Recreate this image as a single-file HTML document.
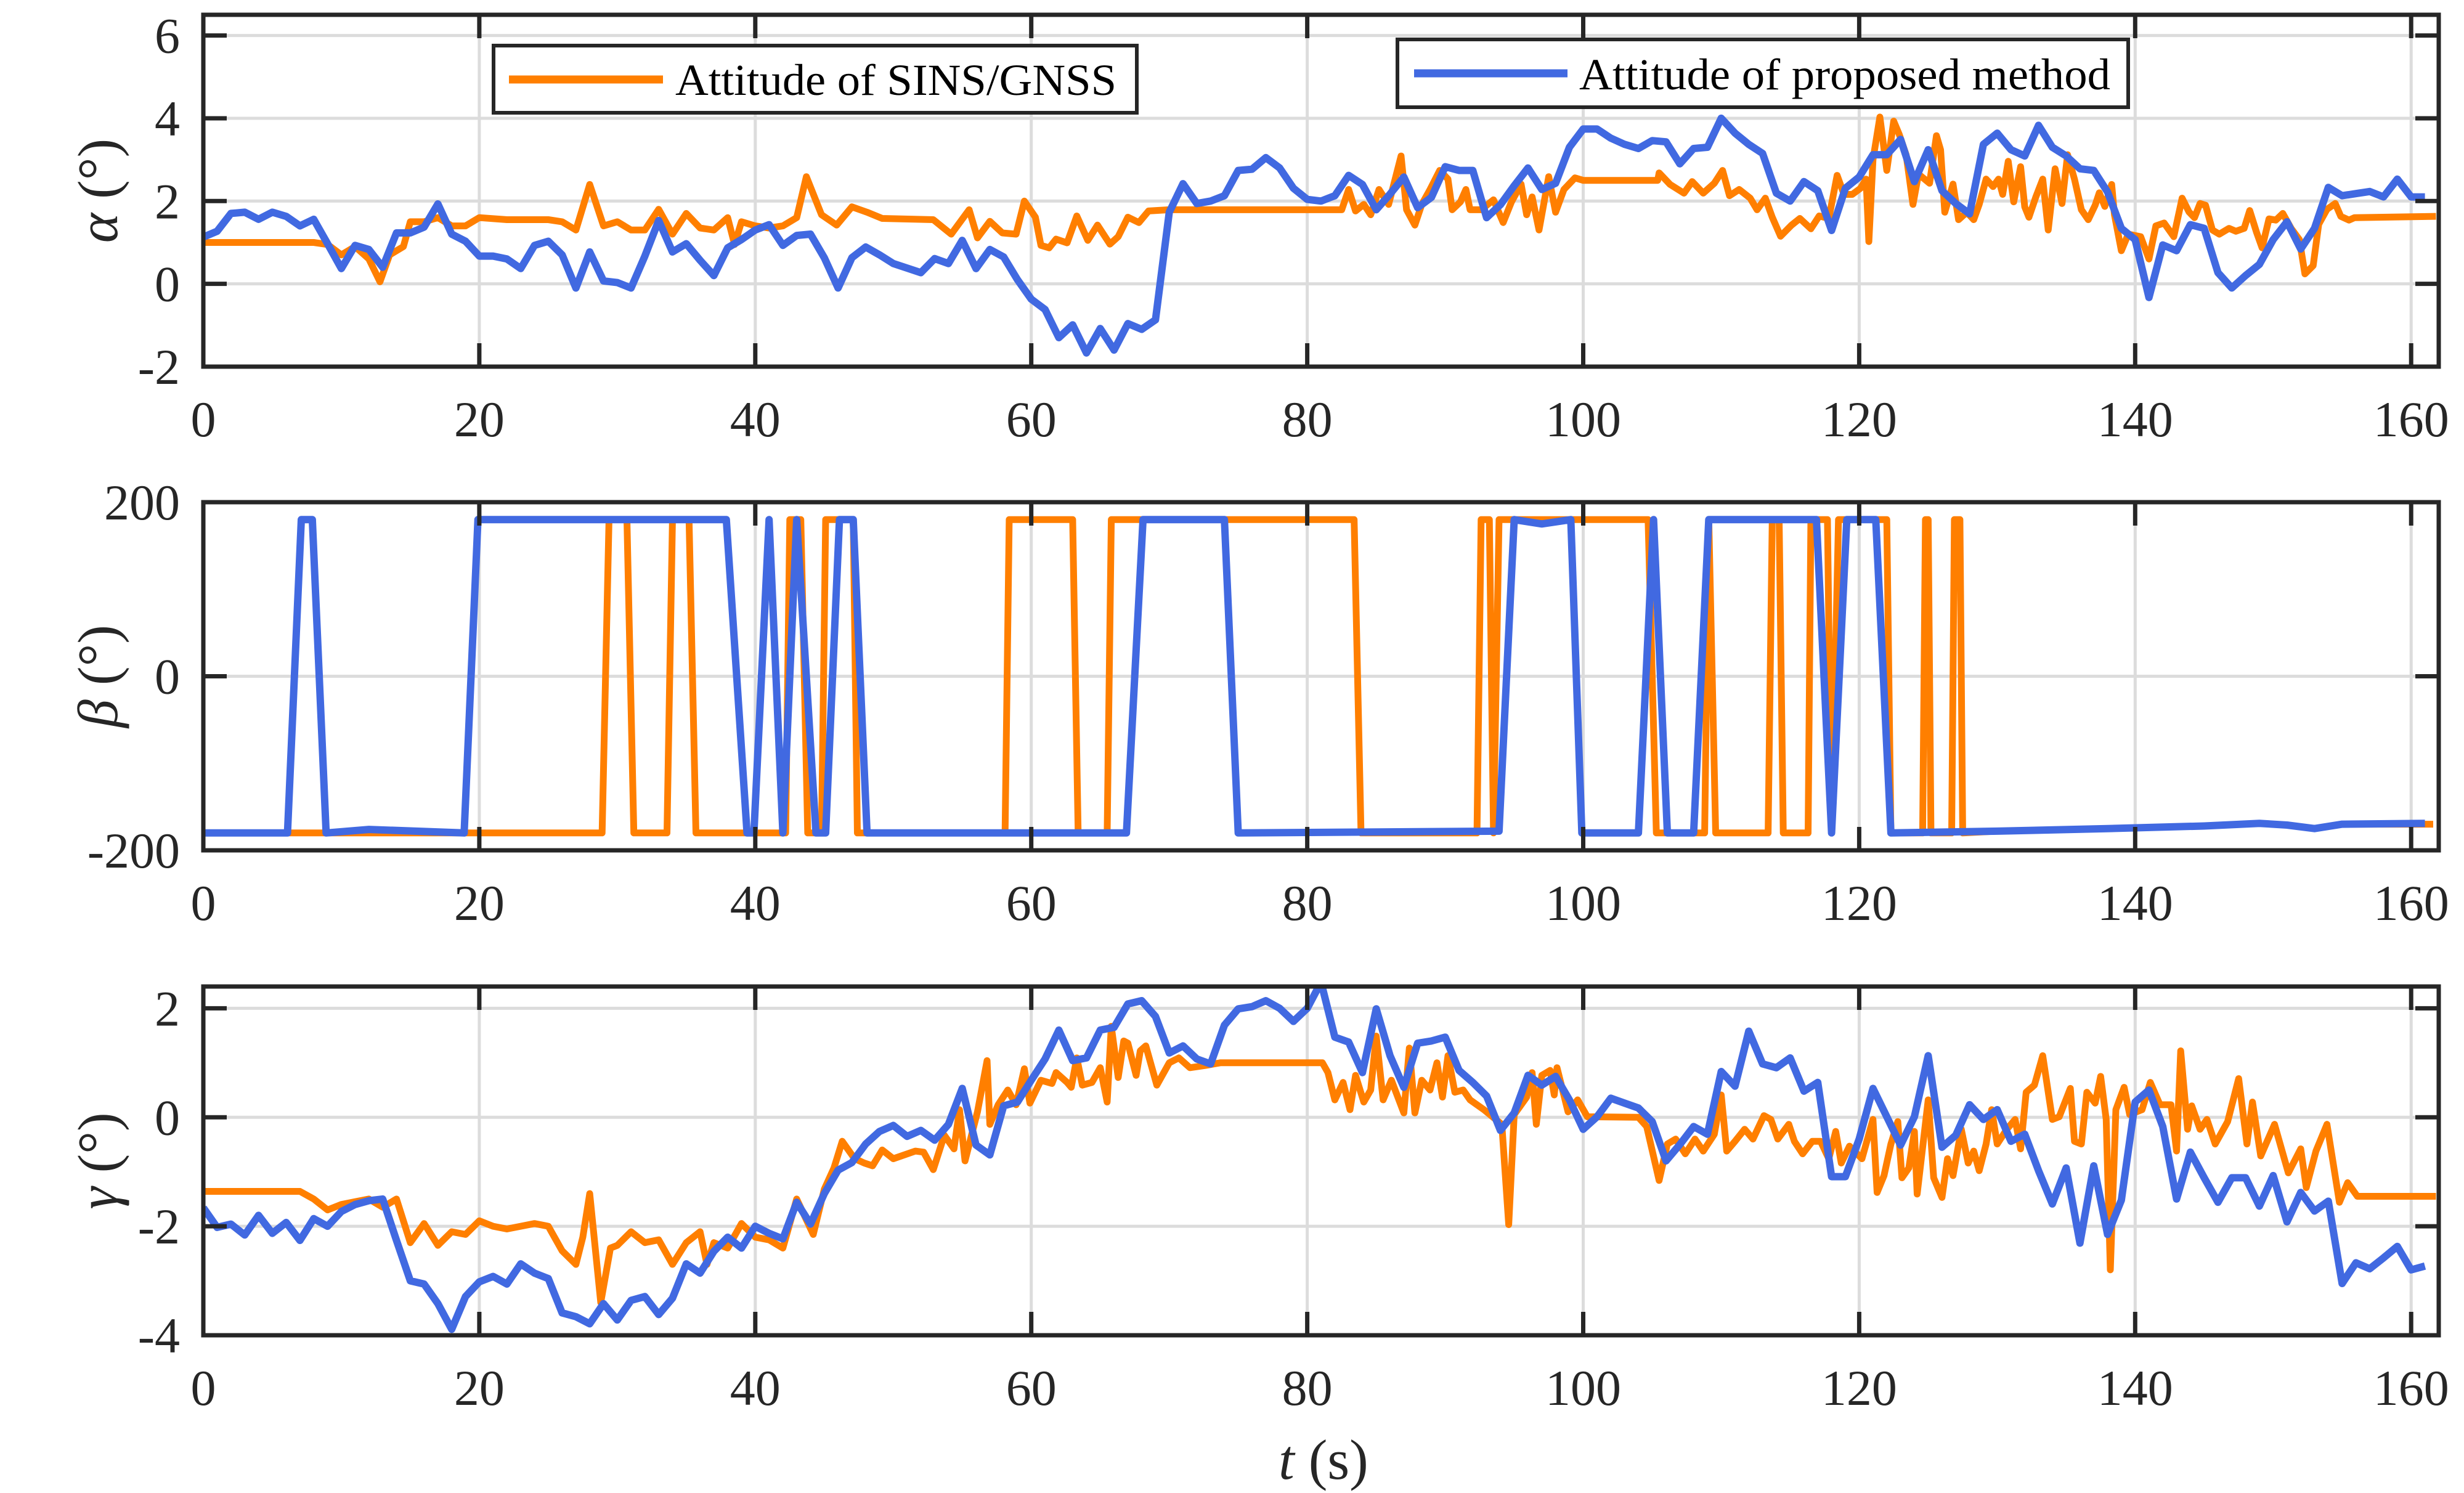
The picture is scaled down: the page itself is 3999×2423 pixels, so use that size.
<!DOCTYPE html>
<html><head><meta charset="utf-8"><style>
html,body{margin:0;padding:0;background:#fff;}
svg{display:block;font-family:"Liberation Serif",serif;}
</style></head><body>
<svg id="chart" xmlns="http://www.w3.org/2000/svg" width="3999" height="2423" viewBox="0 0 3999 2423">
<rect x="0" y="0" width="3999" height="2423" fill="#fff"/>
</svg>
<script>
// ---------- data ----------
const xTicks = [0,20,40,60,80,100,120,140,160];
const alphaTicks = [-2,0,2,4,6];
const betaTicks = [-200,0,200];
const gammaTicks = [-4,-2,0,2];
const legendLabels = ["Attitude of SINS/GNSS","Attitude of proposed method"];

// blue alpha sampled every 1 s starting at t=0
const alphaBlue = [1.13,1.27,1.70,1.73,1.56,1.73,1.63,1.40,1.56,0.97,0.37,0.93,0.83,0.40,1.23,1.23,1.37,1.93,1.20,1.03,0.67,0.67,0.60,0.37,0.93,1.03,0.70,-0.10,0.77,0.07,0.03,-0.10,0.67,1.53,0.77,0.97,0.57,0.20,0.87,1.07,1.30,1.43,0.93,1.17,1.20,0.63,-0.10,0.63,0.89,0.70,0.49,0.38,0.27,0.61,0.49,1.05,0.37,0.83,0.65,0.10,-0.37,-0.62,-1.30,-0.99,-1.67,-1.08,-1.60,-0.96,-1.10,-0.87,1.73,2.42,1.94,2.00,2.13,2.74,2.77,3.05,2.80,2.31,2.04,2.00,2.13,2.62,2.40,1.79,2.17,2.58,1.84,2.09,2.83,2.74,2.74,1.60,1.91,2.37,2.80,2.28,2.43,3.30,3.74,3.74,3.52,3.37,3.27,3.46,3.43,2.90,3.27,3.30,4.00,3.64,3.37,3.15,2.19,2.00,2.47,2.25,1.29,2.31,2.58,3.12,3.12,3.49,2.47,3.24,2.25,1.94,1.69,3.37,3.64,3.24,3.09,3.83,3.30,3.09,2.78,2.74,2.22,1.34,1.07,-0.33,0.94,0.80,1.43,1.34,0.27,-0.10,0.20,0.47,1.07,1.50,0.84,1.34,2.33,2.13,2.18,2.23,2.10,2.53,2.10,2.10];

const alphaOrangeT = [0,8,9,10,11,12,12.8,13.5,14.5,15,16,17,18,19,20,22,25,26,27,28,29,30,31,32,33,34,35,36,37,38,38.5,39,40,41,42,43,43.7,44.8,45.9,47.0,48.1,49.2,52.9,54.2,55.5,56.1,57.0,57.9,58.9,59.5,60.3,60.7,61.3,61.8,62.6,63.3,64.1,64.8,65.7,66.3,67.0,67.8,68.5,70.0,82.5,83.0,83.5,84.1,84.6,85.2,85.9,86.8,87.2,87.8,88.3,88.9,89.6,90.2,90.5,91.1,91.5,91.8,92.6,93.5,94.2,94.8,95.5,95.9,96.3,96.8,97.5,98.0,98.6,99.4,100.0,105.4,105.5,106.3,107.3,107.9,108.7,109.5,110.1,110.6,111.3,112.1,112.6,113.2,113.7,114.3,115.1,115.7,116.5,117.1,117.8,118.4,118.9,119.5,120.1,120.5,120.7,121.0,121.5,122.0,122.5,122.9,123.4,123.9,124.3,125.1,125.6,125.9,126.2,126.8,127.2,127.8,128.3,128.7,129.2,129.7,130.1,130.4,130.8,131.2,131.7,132.0,132.3,132.8,133.3,133.7,134.2,134.7,135.1,135.6,136.1,136.6,137.1,137.4,137.8,138.3,138.5,139.0,139.5,140.4,141.0,141.5,142.1,142.8,143.4,143.9,144.3,144.7,145.1,145.6,146.1,146.8,147.3,147.9,148.3,148.8,149.2,149.7,150.2,150.7,151.3,151.9,152.3,152.9,153.3,153.9,154.5,154.9,155.5,155.9,161.8];
const alphaOrangeV = [1.0,1.0,0.95,0.7,0.9,0.6,0.05,0.7,0.9,1.5,1.5,1.6,1.4,1.4,1.6,1.55,1.55,1.5,1.3,2.4,1.4,1.5,1.3,1.3,1.8,1.2,1.7,1.35,1.3,1.6,0.95,1.5,1.4,1.35,1.4,1.6,2.59,1.67,1.42,1.86,1.73,1.58,1.55,1.2,1.79,1.11,1.51,1.23,1.2,2.0,1.61,0.93,0.87,1.08,0.99,1.64,1.05,1.42,0.96,1.14,1.61,1.48,1.76,1.79,1.79,2.28,1.76,1.92,1.67,2.28,1.92,3.09,1.79,1.42,1.92,2.28,2.74,2.53,1.79,1.98,2.28,1.79,1.79,2.03,1.48,1.98,2.41,1.67,2.1,1.3,2.59,1.73,2.28,2.56,2.5,2.5,2.68,2.4,2.19,2.47,2.19,2.43,2.74,2.13,2.28,2.07,1.79,2.07,1.61,1.15,1.42,1.58,1.33,1.64,1.58,2.62,2.16,2.16,2.31,2.53,1.02,3.0,4.03,2.74,3.93,3.61,3.12,1.92,2.65,2.43,3.58,3.24,1.73,2.41,1.55,1.73,1.55,1.92,2.53,2.35,2.53,2.16,2.96,1.98,2.83,1.86,1.61,2.1,2.53,1.3,2.78,1.94,3.12,2.53,1.79,1.55,1.9,2.2,1.87,2.4,1.67,0.8,1.2,1.14,0.6,1.4,1.47,1.14,2.07,1.74,1.6,1.94,1.9,1.3,1.2,1.34,1.27,1.34,1.77,1.24,0.87,1.57,1.54,1.7,1.34,1.07,0.24,0.44,1.44,1.8,1.94,1.63,1.54,1.6,1.63];

const betaBlueT = [0,6.1,7.1,7.9,8.9,12,18.9,19.9,37.9,39.4,39.9,41.0,42.0,43.0,44.4,45.1,46.1,47.1,48.1,66.9,68.1,74.0,75.0,93.9,95.0,97,99.1,99.9,104.0,105.1,106.1,108.0,109.1,116.9,118.0,119.1,121.2,122.3,130,138,145,149,151,153,155,161];
const betaBlueV = [-180,-180,180,180,-180,-176,-180,180,180,-180,-180,180,-180,180,-180,-180,180,180,-180,-180,180,180,-180,-178,180,175,180,-180,-180,180,-180,-180,180,180,-180,180,180,-180,-178,-175,-172,-169,-171,-175,-170,-169];

const betaOrangeT = [0,28.9,29.4,30.7,31.2,33.6,34.0,35.2,35.7,42.2,42.5,43.3,43.8,44.8,45.1,47.1,47.4,58.1,58.4,63.0,63.4,65.5,65.8,83.4,83.9,92.3,92.6,93.2,93.5,93.9,104.7,105.3,108.8,109.1,109.6,113.4,113.7,114.2,114.5,116.3,116.5,117.7,118.0,118.5,122.0,122.3,124.6,124.8,125.0,125.2,126.7,126.9,127.3,127.5,130,138,145,149,151,153,155,161.6];
const betaOrangeV = [-180,-180,180,180,-180,-180,180,180,-180,-180,180,180,-180,-180,180,180,-180,-180,180,180,-180,-180,180,180,-180,-180,180,180,-180,180,180,-180,-180,180,-180,-180,180,180,-180,-180,180,180,-180,180,180,-180,-180,180,180,-180,-180,180,180,-180,-178,-175,-172,-169,-171,-175,-170,-170];

// blue gamma sampled every 1 s starting at t=0
const gammaBlue = [-1.66,-2.02,-1.96,-2.16,-1.80,-2.13,-1.93,-2.26,-1.86,-2.00,-1.73,-1.60,-1.53,-1.50,-2.26,-3.00,-3.06,-3.42,-3.89,-3.29,-3.02,-2.92,-3.06,-2.69,-2.86,-2.96,-3.59,-3.66,-3.79,-3.42,-3.72,-3.36,-3.29,-3.62,-3.32,-2.69,-2.86,-2.46,-2.20,-2.40,-2.00,-2.13,-2.23,-1.56,-1.96,-1.40,-0.97,-0.83,-0.49,-0.26,-0.15,-0.35,-0.24,-0.42,-0.13,0.53,-0.51,-0.69,0.21,0.28,0.68,1.07,1.60,1.04,1.09,1.60,1.65,2.08,2.14,1.85,1.18,1.31,1.07,0.98,1.69,1.99,2.03,2.14,2.00,1.76,2.00,2.48,1.47,1.38,0.82,1.99,1.13,0.55,1.36,1.40,1.47,0.86,0.64,0.39,-0.24,0.08,0.77,0.59,0.75,0.32,-0.22,0.01,0.35,0.26,0.17,-0.08,-0.80,-0.50,-0.17,-0.31,0.84,0.57,1.58,0.98,0.91,1.09,0.48,0.64,-1.09,-1.09,-0.40,0.53,0.01,-0.51,0.01,1.13,-0.55,-0.33,0.23,-0.04,0.14,-0.44,-0.31,-0.98,-1.59,-0.93,-2.31,-0.89,-2.15,-1.52,0.28,0.50,-0.17,-1.50,-0.64,-1.11,-1.56,-1.11,-1.11,-1.63,-1.07,-1.92,-1.38,-1.72,-1.54,-3.05,-2.67,-2.78,-2.58,-2.37,-2.80,-2.73];

const gammaOrangeT = [0,7,8,9,10,11,12,13,14,15,16,17,18,19,20,21,22,23,24,25,26,27,27.5,28,28.8,29.5,30,31,32,33,34,35,36,36.5,37,38,39,40,41,42,43,44.2,45.0,45.7,46.3,47.2,47.9,48.5,49.2,50.0,51.6,52.2,52.9,53.7,54.4,54.8,55.2,56.1,56.8,57.0,57.6,58.3,58.9,59.5,59.9,60.7,61.5,61.8,62.6,62.9,63.3,63.7,64.4,65.0,65.5,65.8,66.3,66.7,67.0,67.6,67.9,68.3,69.1,70.0,70.7,71.5,72.6,73.7,81.1,81.5,82.0,82.6,83.1,83.5,84.1,84.6,85.0,85.5,86.1,87.0,87.4,87.8,88.3,88.9,89.4,89.8,90.2,90.7,91.3,91.8,92.8,94.1,94.6,95.0,95.9,96.3,96.6,97.0,97.6,97.9,98.1,98.9,99.6,100.3,104.0,104.6,105.5,106.1,106.7,107.4,108.1,108.7,109.5,110.0,110.4,111.0,111.7,112.3,113.1,113.6,114.1,114.9,115.3,115.9,116.6,117.2,117.8,118.3,118.7,119.3,120.2,121.0,121.3,121.8,122.3,122.8,123.1,123.6,124.0,124.2,125.0,125.4,126.0,126.4,126.8,127.4,127.9,128.3,128.7,129.2,129.6,130.0,130.7,131.3,131.7,132.1,132.7,133.3,134.0,134.5,135.3,135.6,136.1,136.5,137.1,137.5,137.9,138.2,138.6,139.2,139.6,140.5,141.1,141.8,142.6,143.0,143.3,143.8,144.1,144.7,145.2,145.8,146.7,147.5,148.1,148.5,149.1,150.1,151.1,152.0,152.4,153.1,153.9,154.8,155.4,156.1,161.8];
const gammaOrangeV = [-1.36,-1.36,-1.5,-1.7,-1.6,-1.55,-1.5,-1.65,-1.5,-2.3,-1.95,-2.35,-2.1,-2.15,-1.9,-2.0,-2.05,-2.0,-1.95,-2.0,-2.45,-2.7,-2.2,-1.4,-3.4,-2.4,-2.35,-2.1,-2.3,-2.25,-2.7,-2.3,-2.1,-2.7,-2.3,-2.4,-1.95,-2.2,-2.25,-2.4,-1.5,-2.15,-1.32,-0.93,-0.44,-0.76,-0.84,-0.89,-0.6,-0.76,-0.62,-0.64,-0.96,-0.33,-0.58,0.14,-0.8,0.1,1.04,-0.13,0.23,0.5,0.23,0.89,0.26,0.68,0.62,0.82,0.64,0.55,1.09,0.59,0.64,0.91,0.28,1.67,0.73,1.4,1.36,0.77,1.22,1.31,0.59,1.0,1.09,0.91,0.95,1.0,1.0,0.82,0.32,0.64,0.14,0.77,0.28,0.5,1.49,0.32,0.68,0.08,1.27,0.08,0.68,0.5,1.0,0.37,1.13,0.46,0.5,0.32,0.14,-0.13,-1.97,0.05,0.37,0.82,-0.13,0.77,0.86,0.41,0.91,0.1,0.32,0.01,0,-0.17,-1.16,-0.49,-0.4,-0.67,-0.4,-0.62,-0.31,0.41,-0.62,-0.44,-0.22,-0.4,0.03,-0.04,-0.4,-0.13,-0.44,-0.67,-0.44,-0.44,-0.76,-0.26,-0.84,-0.53,-0.76,-0.04,-1.38,-1.07,-0.49,-0.08,-1.11,-0.93,-0.26,-1.41,0.32,-1.11,-1.47,-0.76,-1.07,-0.22,-0.84,-0.62,-0.98,-0.49,0.14,-0.49,-0.22,-0.04,-0.58,0.46,0.59,1.13,-0.04,0.01,0.53,-0.44,-0.49,0.46,0.26,0.75,-0.04,-2.8,0.14,0.55,0.05,0.14,0.64,0.23,0.23,-0.62,1.22,-0.22,0.21,-0.22,-0.04,-0.49,-0.08,0.71,-0.49,0.28,-0.71,-0.13,-1.02,-0.58,-1.29,-0.62,-0.13,-1.56,-1.2,-1.45,-1.45];

// ---------- drawing ----------
const NS = "http://www.w3.org/2000/svg";
const svg = document.getElementById("chart");
const X0 = 330, X1 = 3958, XMIN = 0, XMAX = 162;
const xScale = t => X0 + (t - XMIN) / (XMAX - XMIN) * (X1 - X0);
const ORANGE = "#ff7f00", BLUE = "#4169e1", AX = "#262626";

function mk(tag, attrs, parent) {
  const el = document.createElementNS(NS, tag);
  for (const k in attrs) el.setAttribute(k, attrs[k]);
  (parent || svg).appendChild(el);
  return el;
}

function panel(name, top, bottom, ymin, ymax, yTicks, titleSym, series) {
  const g = mk("g", {});
  
  
  const yScale = v => bottom - (v - ymin) / (ymax - ymin) * (bottom - top);
  xTicks.forEach(t => {
    const l = mk("line", {x1: xScale(t), x2: xScale(t), y1: top, y2: bottom, stroke: "#dcdcdc", "stroke-width": 5}, g);
    
    
  });
  yTicks.forEach(v => {
    const l = mk("line", {x1: X0, x2: X1, y1: yScale(v), y2: yScale(v), stroke: "#dcdcdc", "stroke-width": 5}, g);
    
    
  });
  const cid = "clip-" + name;
  const cp = mk("clipPath", {id: cid}, g);
  mk("rect", {x: X0, y: top, width: X1 - X0, height: bottom - top}, cp);
  series.forEach(s => {
    const pts = s.t.map((t, i) => xScale(t).toFixed(1) + "," + yScale(s.v[i]).toFixed(1)).join(" ");
    const pl = mk("polyline", {points: pts, fill: "none", stroke: s.color, "stroke-width": s.w, "stroke-linejoin": "round", "stroke-linecap": "butt", "clip-path": "url(#" + cid + ")"}, g);
    
    
  });
  xTicks.forEach(t => {
    const x = xScale(t);
    mk("line", {x1: x, x2: x, y1: bottom, y2: bottom - 38, stroke: AX, "stroke-width": 7}, g);
    mk("line", {x1: x, x2: x, y1: top, y2: top + 38, stroke: AX, "stroke-width": 7}, g);
    const tx = mk("text", {x: x, y: bottom + 113, "font-size": 82, "text-anchor": "middle", fill: AX}, g);
    tx.textContent = String(t);
    
    
  });
  yTicks.forEach(v => {
    const y = yScale(v);
    mk("line", {x1: X0, x2: X0 + 38, y1: y, y2: y, stroke: AX, "stroke-width": 7}, g);
    mk("line", {x1: X1, x2: X1 - 38, y1: y, y2: y, stroke: AX, "stroke-width": 7}, g);
    const tx = mk("text", {x: 292, y: y + 28, "font-size": 82, "text-anchor": "end", fill: AX}, g);
    tx.textContent = String(v);
    
    
  });
  const box = mk("rect", {x: X0, y: top, width: X1 - X0, height: bottom - top, fill: "none", stroke: AX, "stroke-width": 7}, g);
  
  
  const cy = (top + bottom) / 2;
  const tt = mk("text", {x: 0, y: 0, "font-size": 92, "text-anchor": "middle", fill: AX, transform: "translate(190," + cy + ") rotate(-90)"}, g);
  tt.innerHTML = '<tspan font-style="italic">' + titleSym + '</tspan> (°)';
  
  
}

const idx = arr => arr.map((_, i) => i);

panel("alpha", 24, 595, -2, 6.5, alphaTicks, "α", [
  {id: "sins-gnss", t: alphaOrangeT, v: alphaOrangeV, color: ORANGE, w: 11},
  {id: "proposed", t: idx(alphaBlue), v: alphaBlue, color: BLUE, w: 12}
]);
panel("beta", 815, 1380, -200, 200, betaTicks, "β", [
  {id: "sins-gnss", t: betaOrangeT, v: betaOrangeV, color: ORANGE, w: 11},
  {id: "proposed", t: betaBlueT, v: betaBlueV, color: BLUE, w: 12}
]);
panel("gamma", 1601, 2167, -4, 2.4, gammaTicks, "γ", [
  {id: "sins-gnss", t: gammaOrangeT, v: gammaOrangeV, color: ORANGE, w: 11},
  {id: "proposed", t: idx(gammaBlue), v: gammaBlue, color: BLUE, w: 12}
]);

const xt = mk("text", {x: 2148, y: 2400, "font-size": 92, "text-anchor": "middle", fill: AX});
xt.innerHTML = '<tspan font-style="italic">t</tspan> (s)';



function legend(name, x, y, w, h, color, lx1, lx2, ly, tx, ty, tw, label) {
  const g = mk("g", {});
  
  
  mk("rect", {x: x, y: y, width: w, height: h, fill: "#fff", stroke: AX, "stroke-width": 6}, g);
  const ln = mk("line", {x1: lx1, x2: lx2, y1: ly, y2: ly, stroke: color, "stroke-width": 13}, g);
  
  
  const t = mk("text", {x: tx, y: ty, "font-size": 72, fill: "#000", textLength: tw, lengthAdjust: "spacingAndGlyphs"}, g);
  t.textContent = label;
  
  
}
legend("legend-sins-gnss", 801, 74, 1044, 109, ORANGE, 826, 1076, 129, 1096, 154, 716, legendLabels[0]);
legend("legend-proposed", 2268, 64, 1186, 110, BLUE, 2295, 2544, 119, 2563, 145, 862, legendLabels[1]);
</script>
</body></html>
